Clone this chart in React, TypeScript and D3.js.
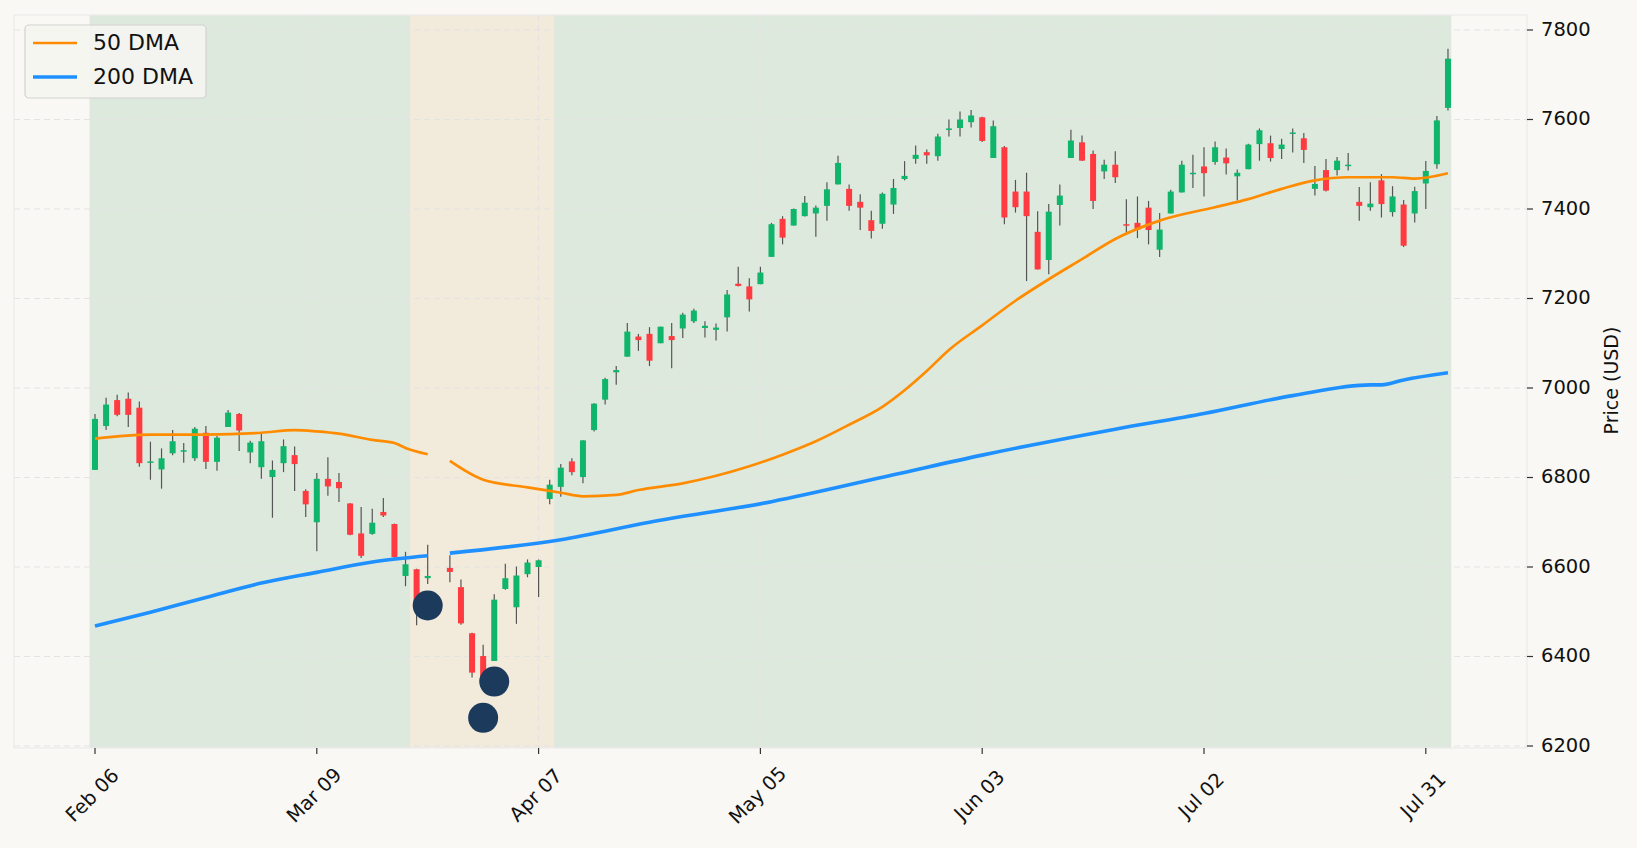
import React from 'react';
import * as d3 from 'd3';

// OHLC per trading day, index 31 has no data
const opens = [6817,6915,6973,6976,6956,6833,6818,6854,6859,6843,6900,6835,6913,6942,6856,6823,6801,6832,6850,6770,6700,6797,6790,6742,6675,6674,6723,6696,6580,6595,6575,null,6598,6555,6452,6401,6390,6551,6510,6584,6600,6752,6779,6836,6801,6906,6974,7035,7070,7115,7121,7100,7116,7133,7149,7134,7130,7158,7233,7227,7232,7293,7378,7363,7384,7390,7407,7455,7445,7416,7375,7367,7410,7467,7512,7527,7518,7578,7581,7594,7605,7514,7538,7439,7439,7349,7286,7409,7514,7549,7523,7484,7499,7366,7369,7403,7309,7390,7437,7478,7495,7505,7515,7473,7489,7545,7547,7534,7569,7558,7445,7487,7487,7497,7416,7404,7464,7393,7410,7390,7457,7500,7626];
const highs = [6942,6978,6985,6990,6970,6880,6865,6906,6877,6913,6915,6893,6951,6944,6882,6900,6838,6885,6869,6774,6810,6845,6810,6743,6734,6730,6754,6697,6634,6596,6650,null,6626,6572,6453,6426,6539,6607,6601,6617,6617,6795,6830,6843,6883,6966,7023,7049,7145,7121,7136,7137,7145,7168,7177,7149,7144,7219,7271,7245,7271,7369,7384,7401,7429,7408,7460,7519,7455,7433,7396,7437,7467,7507,7542,7533,7568,7600,7618,7621,7606,7598,7541,7465,7481,7395,7411,7455,7577,7564,7531,7510,7529,7422,7428,7418,7391,7443,7508,7521,7538,7551,7535,7488,7546,7580,7564,7557,7580,7570,7496,7512,7516,7525,7449,7460,7478,7451,7420,7450,7507,7608,7758];
const lows = [6817,6906,6937,6913,6824,6795,6775,6850,6833,6837,6819,6815,6913,6859,6832,6797,6710,6812,6770,6712,6635,6759,6745,6671,6620,6672,6712,6620,6557,6470,6562,null,6566,6471,6353,6340,6390,6549,6473,6577,6533,6740,6757,6805,6787,6903,6963,7007,7070,7083,7049,7100,7044,7112,7145,7113,7106,7126,7227,7171,7232,7293,7321,7363,7383,7338,7374,7455,7396,7353,7334,7356,7389,7464,7501,7501,7508,7562,7562,7582,7550,7514,7366,7392,7239,7265,7254,7363,7514,7507,7400,7467,7458,7346,7335,7321,7293,7390,7437,7447,7428,7499,7477,7419,7489,7508,7506,7512,7526,7503,7430,7439,7475,7486,7374,7396,7381,7383,7315,7370,7400,7490,7620];
const closes = [6931,6963,6940,6940,6832,6836,6843,6881,6861,6909,6835,6889,6945,6905,6878,6881,6817,6870,6830,6740,6797,6780,6776,6672,6625,6699,6715,6622,6606,6520,6580,null,6589,6474,6364,6355,6527,6575,6581,6610,6615,6784,6822,6812,6883,6965,7020,7040,7126,7107,7061,7137,7107,7164,7173,7139,7135,7209,7228,7198,7258,7366,7336,7400,7414,7403,7444,7503,7407,7403,7351,7434,7447,7474,7521,7520,7562,7580,7600,7609,7552,7585,7381,7404,7384,7265,7394,7430,7553,7508,7418,7499,7471,7364,7354,7353,7354,7439,7499,7481,7480,7538,7502,7481,7544,7576,7514,7544,7571,7532,7456,7441,7508,7499,7407,7412,7411,7428,7318,7440,7485,7598,7736];

// moving averages read at sampled days: [day index, value]
const dma50a = [[0,6887],[5,6896],[10,6896],[15,6900],[18,6906],[20,6903],[22,6898],[25,6884],[27,6877],[28,6866],[30,6852]];
const dma50b = [[32,6837],[35,6795],[39,6778],[42,6766],[44,6758],[47,6761],[49,6772],[53,6787],[59,6825],[62,6851],[65,6881],[68,6918],[71,6958],[73,6995],[75,7038],[77,7085],[80,7140],[83,7195],[86,7243],[89,7288],[92,7333],[96,7374],[101,7404],[104,7422],[107,7445],[110,7464],[113,7471],[117,7471],[119,7468],[122,7480]];
const dma200a = [[0,6468],[5,6499],[10,6532],[15,6564],[20,6588],[25,6611],[30,6625]];
const dma200b = [[32,6631],[42,6661],[50,6700],[61,6746],[72,6806],[80,6850],[92,6908],[100,6943],[108,6983],[115,7007],[116,7007],[118,7018],[122,7034]];

const markers = [[30, 6514], [35, 6263], [36, 6344]];
const regions = [
  { from: -0.5, to: 28.4, fill: '#dee9dd' },
  { from: 28.4, to: 41.4, fill: '#f2eadb' },
  { from: 41.4, to: 122.3, fill: '#dee9dd' },
];
const tickIdx = [0, 20, 40, 60, 80, 100, 120];
const tickLabels = ['Feb 06', 'Mar 09', 'Apr 07', 'May 05', 'Jun 03', 'Jul 02', 'Jul 31'];
const yTicks = [6200, 6400, 6600, 6800, 7000, 7200, 7400, 7600, 7800];

const W = 1637, H = 848;
const box = { left: 14, right: 1527, top: 15, bottom: 748 };

export default function App() {
  const x = d3.scaleLinear().domain([0, 122]).range([95, 95 + 122 * 11.09]);
  const y = d3.scaleLinear().domain([6200, 7800]).range([746, 30]);
  const line = d3.line<number[]>().x(d => x(d[0])).y(d => y(d[1])).curve(d3.curveMonotoneX);
  const font = 'DejaVu Sans, sans-serif';

  return (
    <svg width={W} height={H} style={{ position: 'absolute', left: 0, top: 0, background: '#f9f8f4' }} fontFamily={font}>
      <rect x={0} y={0} width={W} height={H} fill="#f9f8f4" />
      {regions.map((r, i) => (
        <rect key={i} x={x(r.from)} y={box.top} width={x(r.to) - x(r.from)} height={box.bottom - box.top} fill={r.fill} />
      ))}
      <g stroke="#e3e3e3" strokeDasharray="6,4" strokeWidth={1}>
        {yTicks.map(t => <line key={t} x1={box.left} x2={box.right} y1={y(t)} y2={y(t)} />)}
        {tickIdx.map(t => <line key={t} x1={x(t)} x2={x(t)} y1={box.top} y2={box.bottom} />)}
      </g>
      <rect x={box.left} y={box.top} width={box.right - box.left} height={box.bottom - box.top} fill="none" stroke="#ececec" strokeWidth={1.2} />
      {opens.map((o, i) => {
        if (o === null) return null;
        const c = closes[i] as number, h = highs[i] as number, l = lows[i] as number;
        const up = c >= o;
        const top = y(Math.max(o, c)), bot = y(Math.min(o, c));
        return (
          <g key={i}>
            <line x1={x(i)} x2={x(i)} y1={y(h)} y2={y(l)} stroke="#555" strokeWidth={1.2} />
            <rect x={x(i) - 3} y={top} width={6} height={Math.max(bot - top, 1.5)} fill={up ? '#0fb56a' : '#ff3b41'} />
          </g>
        );
      })}
      {[dma50a, dma50b].map((d, i) => <path key={'o' + i} d={line(d) || ''} fill="none" stroke="#ff8c00" strokeWidth={2.7} />)}
      {[dma200a, dma200b].map((d, i) => <path key={'b' + i} d={line(d) || ''} fill="none" stroke="#1e90ff" strokeWidth={3.6} />)}
      {markers.map((m, i) => <circle key={i} cx={x(m[0])} cy={y(m[1])} r={15} fill="#1b3a5c" />)}
      {tickIdx.map((t, i) => (
        <g key={t}>
          <line x1={x(t)} x2={x(t)} y1={box.bottom} y2={box.bottom + 6} stroke="#333" strokeWidth={1.2} />
          <text transform={`translate(${x(t) - 2},${box.bottom + 48}) rotate(-45)`} textAnchor="middle" dominantBaseline="middle" fontSize={19.5} fill="#111">{tickLabels[i]}</text>
        </g>
      ))}
      {yTicks.map(t => (
        <g key={t}>
          <line x1={box.right} x2={box.right + 6} y1={y(t)} y2={y(t)} stroke="#333" strokeWidth={1.2} />
          <text x={box.right + 14} y={y(t)} dominantBaseline="middle" fontSize={19.5} fill="#111">{t}</text>
        </g>
      ))}
      <text transform={`translate(1612,${(box.top + box.bottom) / 2 - 1}) rotate(-90)`} textAnchor="middle" dominantBaseline="middle" fontSize={19} fill="#111">Price (USD)</text>
      <g>
        <rect x={25} y={25} width={181} height={73} rx={4} fill="#f5f5f1" fillOpacity={0.9} stroke="#d2d2d2" strokeWidth={1.2} />
        <line x1={33} x2={77} y1={43} y2={43} stroke="#ff8c00" strokeWidth={2.7} />
        <line x1={33} x2={77} y1={77} y2={77} stroke="#1e90ff" strokeWidth={3.6} />
        <text x={93} y={44} dominantBaseline="middle" fontSize={22} fill="#111">50 DMA</text>
        <text x={93} y={78} dominantBaseline="middle" fontSize={22} fill="#111">200 DMA</text>
      </g>
    </svg>
  );
}
